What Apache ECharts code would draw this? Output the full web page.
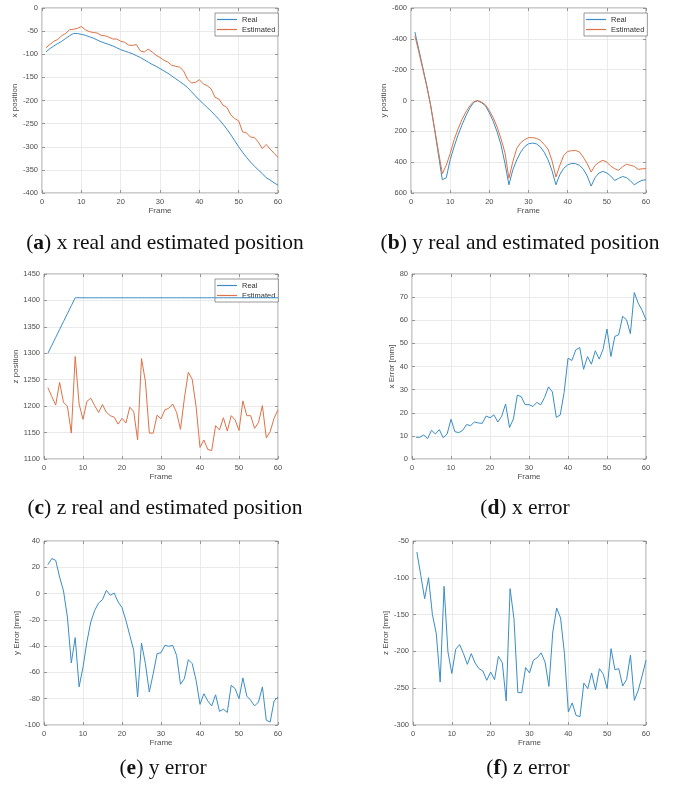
<!DOCTYPE html>
<html><head><meta charset="utf-8">
<script src="https://cdn.jsdelivr.net/npm/echarts/dist/echarts.min.js"></script>
<style>html,body{margin:0;padding:0;background:#fff}#c{width:694px;height:790px}</style>
</head><body><div id="c"></div>
<script>
const frames = [1,2,3,4,5,6,7,8,9,10,11,12,13,14,15,16,17,18,19,20,21,22,23,24,25,26,27,28,29,30,31,32,33,34,35,36,37,38,39,40,41,42,43,44,45,46,47,48,49,50,51,52,53,54,55,56,57,58,59,60];

const xReal = [-95,-88,-82,-77,-72,-66,-60,-55,-55,-57,-59,-62,-65,-69,-73,-76,-79,-82,-86,-90,-93,-96,-99,-103,-107,-112,-117,-122,-126,-131,-136,-141,-147,-153,-159,-165,-172,-181,-190,-199,-207,-215,-223,-232,-241,-251,-262,-274,-287,-300,-312,-323,-333,-342,-350,-358,-367,-372,-378,-383];
const xEst = [-86,-79,-72,-68,-60,-55,-47,-46,-44,-40,-47,-51,-53,-54,-59,-60,-63,-67,-67,-72,-74,-80,-81,-79,-93,-95,-89,-95,-102,-107,-113,-117,-124,-126,-128,-136,-154,-162,-161,-155,-164,-168,-175,-193,-197,-210,-215,-231,-239,-244,-268,-270,-279,-280,-290,-304,-295,-305,-314,-323];

const yReal = [-444,-330,-215,-100,30,185,350,514,501,385,300,225,160,100,50,12,2,14,34,80,135,205,290,410,547,450,385,335,300,281,276,281,300,335,385,455,547,480,440,418,408,410,420,445,490,555,500,470,460,470,490,519,505,493,500,520,547,530,518,514];
const yEst = [-420,-315,-205,-95,30,180,330,475,420,345,255,185,125,75,35,8,0,10,28,65,112,172,250,340,505,397,310,274,254,241,241,245,258,285,316,390,496,420,356,330,326,324,334,368,410,464,421,400,388,400,426,442,453,430,414,420,427,447,443,442];

const zReal = [1300,1315,1330,1345,1360,1375,1390,1405,1405,1405,1405,1405,1405,1405,1405,1405,1405,1405,1405,1405,1405,1405,1405,1405,1405,1405,1405,1405,1405,1405,1405,1405,1405,1405,1405,1405,1405,1405,1405,1405,1405,1405,1405,1405,1405,1405,1405,1405,1405,1405,1405,1405,1405,1405,1405,1405,1405,1405,1405,1405];
const zEst = [1235,1218,1202,1245,1207,1200,1149,1294,1204,1175,1209,1215,1201,1188,1203,1188,1182,1179,1166,1177,1168,1198,1190,1136,1290,1247,1149,1149,1183,1176,1193,1196,1204,1188,1156,1215,1264,1251,1199,1122,1136,1118,1116,1163,1155,1178,1153,1182,1174,1154,1210,1182,1182,1158,1169,1201,1140,1152,1177,1193];

const xErr = [9.4,9.4,10.4,8.8,12.4,10.8,12.7,9.2,10.8,17.2,11.8,11.4,12.4,14.9,14.4,16.0,15.6,15.4,18.6,17.8,19.1,16.0,18.5,23.8,13.6,17.3,27.6,27.0,23.5,23.5,22.7,24.5,23.4,26.6,31.2,29.0,18.0,19.0,28.7,43.6,42.6,47.2,48.2,38.8,44.3,41.0,46.8,43.2,47.5,56.2,44.3,53.0,53.7,61.7,60.2,54.2,72.0,67.4,64.3,60.2];
const yErr = [22,26.6,25.3,12.6,2,-17.8,-52.8,-33.5,-71,-56,-36.8,-21.6,-12.8,-7.2,-4.6,2.5,-1.3,0.4,-6.4,-10.7,-20.4,-31.8,-43.2,-78.7,-37.6,-53.3,-74.9,-61,-45.7,-45,-39.4,-40.1,-39.4,-47,-69,-64.7,-50.3,-53.3,-66,-84.3,-76.2,-81.7,-85.5,-77,-89.6,-88,-90.4,-69.8,-72.3,-80,-64.2,-78,-81.2,-85.5,-82.5,-71,-96.4,-97.7,-81.7,-78.7];
const zErr = [-65,-96.6,-128.4,-99.8,-150,-176,-241.6,-111.6,-200.8,-230,-197,-190.8,-203,-217.6,-203,-215.8,-223.5,-226.6,-239.3,-228,-238.4,-206.7,-215.3,-267.4,-114.8,-155.5,-256,-256,-222,-229.3,-212,-208.5,-202,-214.4,-247.5,-173.6,-141,-154.6,-203,-282.3,-270,-287,-288.7,-243,-250.6,-229.3,-252.4,-223.5,-231,-250.6,-196.3,-224.8,-223.5,-247,-238.4,-205,-266.5,-253,-233.4,-212];

const xTicks = {min:0, max:60, interval:10};
const yAxisNames = ['x position','y position','z position','x Error [mm]','y Error [mm]','z Error [mm]'];
const captions = [['a',' x real and estimated position'],['b',' y real and estimated position'],['c',' z real and estimated position'],['d',' x error'],['e',' y error'],['f',' z error']];
const seriesNames = ['Real','Estimated'];

const FONT = "'Liberation Sans', Arial, Helvetica, sans-serif";
const SERIF = "'Liberation Serif', 'Times New Roman', serif";
const BLUE = '#3a8dc6', ORANGE = '#de7246';
const TXT = '#4d4d4d', BOX = '#808080', GRIDC = '#e4e4e4';

const panels = [
  {grid:{left:42,top:8,width:236,height:185}, y:{min:-400,max:0,interval:50}, gap:19, data:[xReal,xEst], legend:{left:215,top:13}, cap:[165,243]},
  {grid:{left:411,top:8,width:235,height:185}, y:{min:-600,max:600,interval:200,inverse:true}, gap:19, data:[yReal,yEst], legend:{left:584,top:13}, cap:[520,243]},
  {grid:{left:44,top:274,width:234,height:185}, y:{min:1100,max:1450,interval:50}, gap:21, data:[zReal,zEst], legend:{left:215,top:279}, cap:[165,508]},
  {grid:{left:412,top:274,width:234,height:185}, y:{min:0,max:80,interval:10}, gap:14, data:[xErr], cap:[525,508]},
  {grid:{left:44,top:541,width:234,height:184}, y:{min:-100,max:40,interval:20}, gap:19, data:[yErr], cap:[163,768]},
  {grid:{left:413,top:541,width:233,height:184}, y:{min:-300,max:-50,interval:50}, gap:21, data:[zErr], cap:[528,768]}
];

const pair = arr => frames.map((f,i)=>[f,arr[i]]);
const tick = {show:true, inside:true, length:3, lineStyle:{color:BOX, width:0.8}};
const noLine = {show:false, onZero:false};
const lbl = {fontSize:7.5, color:TXT, fontFamily:FONT, margin:4, formatter:v=>String(v)};

const grid=[], xAxis=[], yAxis=[], series=[], legend=[], graphic=[];
panels.forEach((p,i)=>{
  grid.push(Object.assign({show:true, borderColor:BOX, borderWidth:0.8, containLabel:false}, p.grid));
  xAxis.push(Object.assign({type:'value', gridIndex:i, position:'bottom', axisLine:noLine, axisTick:tick,
    axisLabel:Object.assign({}, lbl, {margin:5}), splitLine:{show:true, lineStyle:{color:GRIDC, width:0.8}},
    name:'Frame', nameLocation:'middle', nameGap:13, nameTextStyle:{fontSize:8, color:TXT, fontFamily:FONT}}, xTicks));
  yAxis.push(Object.assign({type:'value', gridIndex:i, position:'left', axisLine:noLine, axisTick:tick,
    axisLabel:lbl, splitLine:{show:true, lineStyle:{color:GRIDC, width:0.8}},
    name:yAxisNames[i], nameLocation:'middle', nameGap:p.gap, nameRotate:90,
    nameTextStyle:{fontSize:8, color:TXT, fontFamily:FONT}}, p.y));
  p.data.forEach((arr,k)=>{
    series.push({type:'line', name:seriesNames[k], xAxisIndex:i, yAxisIndex:i, data:pair(arr),
      showSymbol:false, symbol:'none', lineStyle:{width:1, color:k?ORANGE:BLUE}, itemStyle:{color:k?ORANGE:BLUE},
      silent:true, z:5});
  });
  if (p.legend) {
    legend.push({left:p.legend.left, top:p.legend.top, orient:'vertical', icon:'rect', itemWidth:20, itemHeight:1.2, itemGap:1,
      padding:[2,3,2,2], backgroundColor:'#fff', borderColor:'#555', borderWidth:0.6, selectedMode:false,
      textStyle:{fontSize:7.5, color:'#333', fontFamily:FONT, lineHeight:9}, data:seriesNames});
  }
  graphic.push({type:'text', x:p.cap[0], y:p.cap[1], style:{
    text:'({b|'+captions[i][0]+'})'+captions[i][1], textAlign:'center', textVerticalAlign:'middle',
    font:'21.5px '+SERIF, fill:'#111',
    rich:{b:{fontWeight:'bold', fontSize:21.5, fontFamily:SERIF, fill:'#111'}}}});
});
// top & right tick-only axes (MATLAB box ticks)
panels.forEach((p,i)=>{
  xAxis.push(Object.assign({type:'value', gridIndex:i, position:'top', axisLine:noLine, axisTick:tick,
    axisLabel:{show:false}, splitLine:{show:false}}, xTicks));
  yAxis.push(Object.assign({type:'value', gridIndex:i, position:'right', axisLine:noLine, axisTick:tick,
    axisLabel:{show:false}, splitLine:{show:false}}, p.y));
});

const chart = echarts.init(document.getElementById('c'));
chart.setOption({animation:false, backgroundColor:'#fff', grid, xAxis, yAxis, series, legend, graphic});
</script>
</body></html>
